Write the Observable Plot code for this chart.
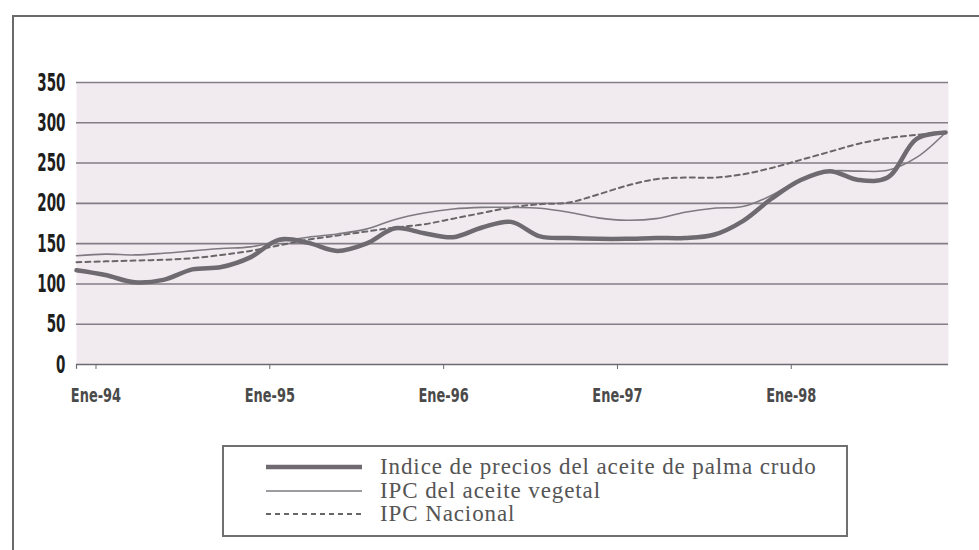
<!DOCTYPE html>
<html>
<head>
<meta charset="utf-8">
<script src="https://cdn.jsdelivr.net/npm/d3@7"></script>
<script src="https://cdn.jsdelivr.net/npm/@observablehq/plot@0.6"></script>
<style>
  html, body { margin: 0; padding: 0; background: #fff; }
  body { width: 979px; height: 550px; position: relative; overflow: hidden; }
  #frame { position: absolute; left: 12px; top: 15px; width: 970px; height: 540px;
           border-left: 2px solid #6a6a6a; border-top: 2px solid #6a6a6a; }
  #chart { position: absolute; left: 0; top: 0; }
  #chart text { font-stretch: condensed; }
  #legend { position: absolute; left: 222px; top: 445px; width: 622px; height: 88px;
            border: 2px solid #707070; background: #fff; box-sizing: content-box; }
  .row { position: absolute; left: 0; height: 24px; display: flex; align-items: center; }
  .row svg { position: absolute; left: 42px; }
  .row span { position: absolute; left: 156px; white-space: nowrap; font-family: "Liberation Serif", "DejaVu Serif", serif;
              font-size: 23px; letter-spacing: 0.9px; color: #555; line-height: 24px; }
</style>
</head>
<body>
<div id="frame"></div>
<div id="chart"></div>
<div id="legend"></div>
<script>
// Month index: 0 = Ene-94 (January 1994); points every two months.
const months = [-1, 1, 3, 5, 7, 9, 11, 13, 15, 17, 19, 21, 23, 25, 27, 29, 31, 33, 35, 37, 39, 41, 43, 45, 47, 49, 51, 53, 55, 57, 59];
const palmaCrudo = [117, 111, 102, 105, 118, 121, 133, 155, 151, 141, 150, 169, 163, 158, 170, 177, 159, 157, 156, 156, 157, 157, 161, 178, 206, 229, 240, 229, 232, 280, 288];
const aceiteVegetal = [135, 137, 136, 138, 141, 144, 146, 153, 158, 162, 168, 180, 188, 193, 195, 195, 194, 189, 182, 179, 181, 189, 194, 196, 210, 230, 240, 240, 241, 257, 288];
const ipcNacional = [127, 128, 129, 130, 132, 136, 141, 148, 155, 160, 165, 170, 174, 181, 188, 195, 199, 201, 211, 222, 230, 232, 232, 236, 244, 254, 264, 274, 281, 285, 288];
const seriesNames = ["Indice de precios del aceite de palma crudo", "IPC del aceite vegetal", "IPC Nacional"];
const xTickMonths = [0, 12, 24, 36, 48];
const xTickLabels = ["Ene-94", "Ene-95", "Ene-96", "Ene-97", "Ene-98"];
const yTicks = [0, 50, 100, 150, 200, 250, 300, 350];

const rows = [];
months.forEach((m, i) => {
  rows.push({m, v: palmaCrudo[i], s: seriesNames[0]});
  rows.push({m, v: aceiteVegetal[i], s: seriesNames[1]});
  rows.push({m, v: ipcNacional[i], s: seriesNames[2]});
});
const styles = {
  [seriesNames[0]]: {stroke: "#6f6a70", strokeWidth: 4.5, dash: null},
  [seriesNames[1]]: {stroke: "#7e7a80", strokeWidth: 1.6, dash: null},
  [seriesNames[2]]: {stroke: "#6a6668", strokeWidth: 2, dash: "5,4"}
};
const axisFont = "'DejaVu Sans Condensed', 'DejaVu Sans', sans-serif";

const plot = Plot.plot({
  width: 979,
  height: 430,
  marginLeft: 76,
  marginRight: 31,
  marginTop: 82,
  marginBottom: 66,
  style: {background: "transparent", overflow: "visible"},
  x: {domain: [-1, 59.2]},
  y: {domain: [0, 350]},
  marks: [
    Plot.frame({fill: "#f1ebf0", stroke: null}),
    Plot.gridY(yTicks.filter(d => d > 0), {stroke: "#857c86", strokeOpacity: 1, strokeWidth: 1.6}),
    Plot.ruleY([0], {stroke: "#6e6a70", strokeWidth: 1.6}),
    Plot.ruleX([-1], {stroke: "#6e6a70", strokeWidth: 1.2, y1: 0, y2: -6}),
    Plot.axisY({ticks: yTicks, tickSize: 0, tickPadding: 11, fontSize: 25, fontWeight: "bold",
      fontFamily: axisFont, fill: "#1e1e1e", label: null}),
    Plot.axisX({ticks: xTickMonths, tickFormat: (d) => xTickLabels[xTickMonths.indexOf(d)], tickSize: 5,
      stroke: "#6e6a70", tickPadding: 18, fontSize: 20, fontWeight: "bold", dx: 5,
      fontFamily: axisFont, fill: "#4a4a4a", label: null}),
    ...seriesNames.slice().reverse().map(name => Plot.line(rows.filter(r => r.s === name), {
      x: "m", y: "v", stroke: styles[name].stroke, strokeWidth: styles[name].strokeWidth,
      strokeDasharray: styles[name].dash, curve: "catmull-rom"
    }))
  ]
});
document.getElementById("chart").appendChild(plot);
// narrow, tall axis digits as in the original (condensed display face)
function squeeze(sel, sx) {
  plot.querySelectorAll(sel).forEach(t => {
    const tr = t.getAttribute("transform") || "";
    t.setAttribute("transform", tr + ` scale(${sx},1)`);
  });
}
squeeze("g[aria-label='y-axis tick label'] text", 0.6);
squeeze("g[aria-label='x-axis tick label'] text", 0.72);

const legend = document.getElementById("legend");
const rowTops = [8, 32, 55];
seriesNames.forEach((name, i) => {
  const st = styles[name];
  const row = document.createElement("div");
  row.className = "row";
  row.style.top = rowTops[i] + "px";
  row.style.width = "622px";
  row.innerHTML = `<svg width="96" height="24"><line x1="0" x2="96" y1="12" y2="12" stroke="${st.stroke}" stroke-width="${st.strokeWidth}" ${st.dash ? `stroke-dasharray="${st.dash}"` : ""}/></svg><span>${name}</span>`;
  legend.appendChild(row);
});
</script>
</body>
</html>
